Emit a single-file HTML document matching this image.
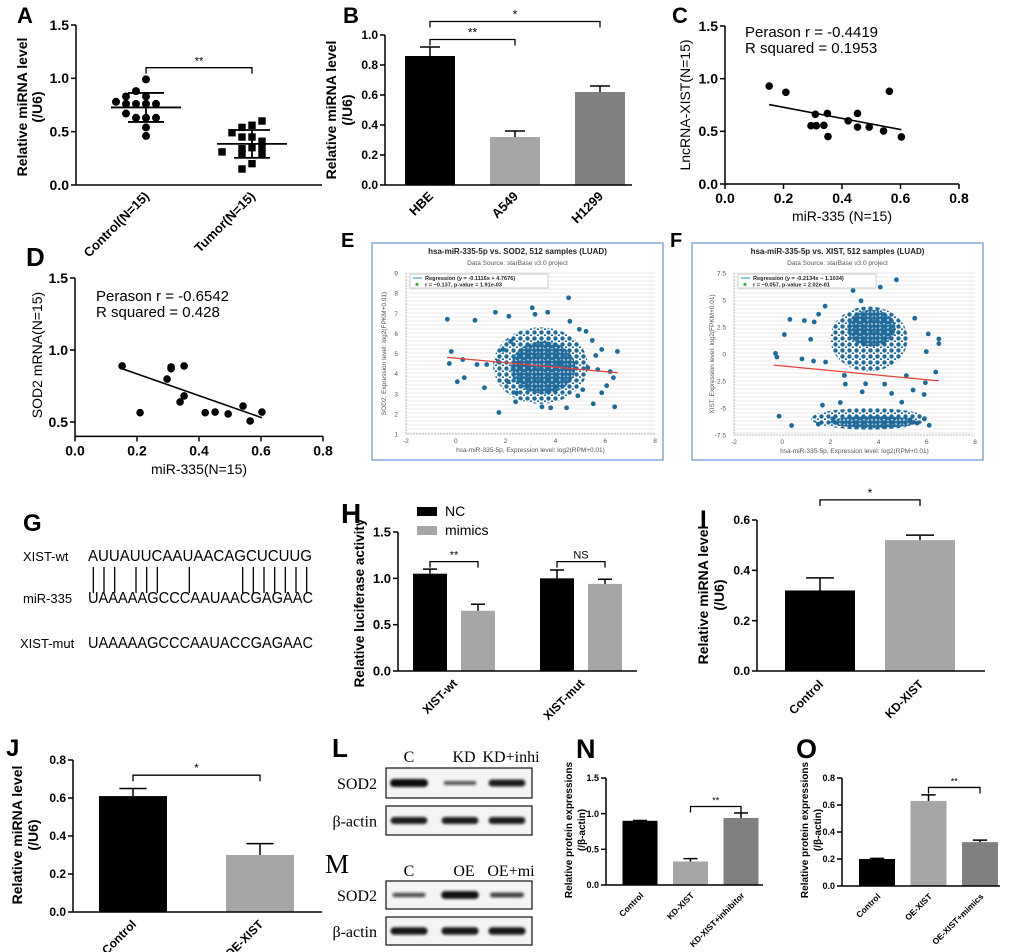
<!DOCTYPE html>
<html><head><meta charset="utf-8"><title>Figure</title>
<style>
html,body{margin:0;padding:0;background:#fff;}
svg{display:block;}
</style></head>
<body>
<svg id="fig" xmlns="http://www.w3.org/2000/svg" width="1020" height="952" viewBox="0 0 1020 952" font-family="'Liberation Sans', Arial, sans-serif">
<defs>
<pattern id="dotsDense" width="4" height="4" patternUnits="userSpaceOnUse"><circle cx="2" cy="2" r="2" fill="#1f6a99"/></pattern>
<pattern id="dotsSparse" width="7" height="6" patternUnits="userSpaceOnUse"><circle cx="2.5" cy="2.5" r="2.2" fill="#1f6a99"/><circle cx="6" cy="5.5" r="1.2" fill="#1f6a99"/></pattern>
<filter id="blur" x="-20%" y="-80%" width="140%" height="260%"><feGaussianBlur stdDeviation="1.3"/></filter>
</defs>
<rect x="0" y="0" width="1020" height="952" fill="#fff"/>
<text x="17" y="23" font-size="22" font-weight="bold">A</text>
<text x="343" y="23" font-size="22" font-weight="bold">B</text>
<text x="672" y="23" font-size="22" font-weight="bold">C</text>
<text x="26" y="266" font-size="26" font-weight="bold">D</text>
<text x="341" y="247" font-size="20" font-weight="bold">E</text>
<text x="670" y="247" font-size="20" font-weight="bold">F</text>
<text x="23" y="531" font-size="24" font-weight="bold">G</text>
<text x="341" y="523" font-size="28" font-weight="bold">H</text>
<text x="700" y="527" font-size="24" font-weight="bold">I</text>
<text x="6" y="756" font-size="24" font-weight="bold">J</text>
<text x="332" y="757" font-size="26" font-weight="bold">L</text>
<text x="325" y="873" font-size="27" font-family="'Liberation Serif', serif">M</text>
<text x="576" y="758" font-size="27" font-weight="bold">N</text>
<text x="796" y="758" font-size="27" font-weight="bold">O</text>
</svg>
<script>
// ===== DATA =====
const A_categories = ['Control(N=15)', 'Tumor(N=15)'];
const A_control = [0.83,0.76,0.76,0.76,0.88,0.99,0.76,0.78,0.83,0.63,0.63,0.63,0.67,0.54,0.46];
const A_tumor = [0.56,0.54,0.60,0.45,0.45,0.41,0.49,0.35,0.34,0.35,0.29,0.29,0.31,0.20,0.15];
const A_ticks = [0, 0.5, 1.0, 1.5];

const B_categories = ['HBE', 'A549', 'H1299'];
const B_values = [0.86, 0.32, 0.62];
const B_errors = [0.06, 0.04, 0.04];
const B_ticks = [0, 0.2, 0.4, 0.6, 0.8, 1.0];

const C_x = [0.151,0.208,0.294,0.309,0.312,0.338,0.350,0.352,0.421,0.453,0.453,0.493,0.542,0.562,0.603];
const C_y = [0.93,0.87,0.554,0.662,0.554,0.557,0.67,0.45,0.60,0.67,0.54,0.54,0.504,0.88,0.447];
const C_xticks = [0, 0.2, 0.4, 0.6, 0.8];
const C_yticks = [0, 0.5, 1.0, 1.5];

const D_x = [0.152,0.21,0.297,0.31,0.31,0.352,0.339,0.352,0.42,0.452,0.494,0.542,0.565,0.603,0.31];
const D_y = [0.889,0.565,0.798,0.875,0.882,0.889,0.639,0.681,0.565,0.569,0.556,0.611,0.507,0.569,0.87];
const D_xticks = [0, 0.2, 0.4, 0.6, 0.8];
const D_yticks = [0.5, 1.0, 1.5];

const E_regression = [-0.1116, 4.7676];
const E_x = [-0.34,-0.18,-0.26,0.06,0.34,0.28,0.77,0.85,1.15,1.24,1.59,2.13,1.73,3.07,3.18,3.69,4.53,4.58,4.96,5.23,5.48,5.86,6.49,6.38,5.86,6.06,5.52,4.45,3.81,3.46,2.4,5.62,6.2,6.33,4.18,2.44,2.85,1.9,2.1,5.1,5.3,4.9,2.2,1.7,5.7];
const E_y = [6.7,5.1,4.5,3.6,3.8,4.7,6.65,4.45,3.3,4.45,7.05,6.85,2.07,7.27,6.95,7.05,7.77,6.6,6.2,6.1,5.65,5.2,5.1,2.35,3.05,3.4,2.5,2.3,2.3,2.35,2.6,4.9,4.1,3.8,4.55,3.05,3.4,5.2,3.6,3.2,4.3,2.9,5.6,4.6,4.2];
const E_cloudX = [3.4, 3.5];
const E_cloudY = [4.4, 4.3];
const E_xticks = [-2, 0, 2, 4, 6, 8];
const E_yticks = [1,2,3,4,5,6,7,8,9];

const F_regression = [-0.2134, -1.1034];
const F_x = [-0.28,-0.22,0.09,0.32,0.92,0.82,1.3,1.18,1.33,1.51,1.78,1.8,2.58,2.62,3.32,3.46,4.25,4.54,5.15,5.43,5.89,5.94,6.37,6.5,6.5,5.98,6.06,5.5,2.94,4.07,4.74,3.27,4.96,-0.13,0.39,1.67,2.41,2.1,5.3,5.6,1.5,5.9,6.1];
const F_y = [0.06,-0.28,1.8,3.2,3.1,-0.46,-0.65,1.36,2.97,3.68,4.43,-0.74,-1.98,-2.79,-3.5,-2.76,-2.79,-3.65,-2.0,-3.34,-3.75,-2.66,-1.67,1.39,0.96,0.22,1.86,3.31,5.88,6.19,6.87,4.92,-4.46,-5.76,-6.62,-4.74,-4.49,-6.0,-6.1,-6.4,-6.5,-6.0,-6.6];
const F_cloudX = [3.6, 3.7, 3.6, 3.8];
const F_cloudY = [1.4, 2.4, -6.0, -6.3];
const F_xticks = [-2, 0, 2, 4, 6, 8];
const F_yticks = [-7.5, -5, -2.5, 0, 2.5, 5, 7.5];

const G_wt = 'AUUAUUCAAUAACAGCUCUUG';
const G_mir = 'UAAAAAGCCCAAUAACGAGAAC';
const G_mut = 'UAAAAAGCCCAAUACCGAGAAC';
const G_pairs = [0,1,2,4,5,6,9,14,15,16,17,18,19,20];

const H_groups = ['XIST-wt', 'XIST-mut'];
const H_nc = [1.05, 1.00];
const H_ncErr = [0.05, 0.09];
const H_mimics = [0.65, 0.94];
const H_mimicsErr = [0.07, 0.05];
const H_ticks = [0, 0.5, 1.0, 1.5];

const I_categories = ['Control', 'KD-XIST'];
const I_values = [0.32, 0.52];
const I_errors = [0.05, 0.02];
const I_ticks = [0, 0.2, 0.4, 0.6];

const J_categories = ['Control', 'OE-XIST'];
const J_values = [0.61, 0.30];
const J_errors = [0.04, 0.06];
const J_ticks = [0, 0.2, 0.4, 0.6, 0.8];

const N_categories = ['Control', 'KD-XIST', 'KD-XIST+inhibitor'];
const N_values = [0.90, 0.33, 0.94];
const N_errors = [0.005, 0.04, 0.07];
const N_ticks = [0, 0.5, 1.0, 1.5];

const O_categories = ['Control', 'OE-XIST', 'OE-XIST+mimics'];
const O_values = [0.20, 0.63, 0.325];
const O_errors = [0.005, 0.045, 0.015];
const O_ticks = [0, 0.2, 0.4, 0.6, 0.8];

const L_lanes = ['C', 'KD', 'KD+inhi'];
const L_sod2 = [1.0, 0.35, 0.85];
const L_actin = [0.85, 0.85, 0.85];
const M_lanes = ['C', 'OE', 'OE+mi'];
const M_sod2 = [0.4, 0.95, 0.5];
const M_actin = [0.9, 0.9, 0.9];

// ===== HELPERS =====
const NS = 'http://www.w3.org/2000/svg';
const svg = document.getElementById('fig');
function mk(tag, attrs, parent) {
  const e = document.createElementNS(NS, tag);
  for (const k in attrs) e.setAttribute(k, attrs[k]);
  (parent || svg).appendChild(e);
  return e;
}
function txt(x, y, s, attrs, parent) {
  const e = mk('text', Object.assign({x: x, y: y}, attrs || {}), parent);
  e.textContent = s;
  return e;
}
function lin(d0, d1, r0, r1) { return v => r0 + (v - d0) / (d1 - d0) * (r1 - r0); }
function fmt(v, dec) { return v.toFixed(dec); }
function group(name) {
  const g = mk('g', {});
  
  
  return g;
}
function fit(xs, ys) {
  const n = xs.length; let mx = 0, my = 0;
  for (let i = 0; i < n; i++) { mx += xs[i]; my += ys[i]; }
  mx /= n; my /= n;
  let sxy = 0, sxx = 0;
  for (let i = 0; i < n; i++) { sxy += (xs[i]-mx)*(ys[i]-my); sxx += (xs[i]-mx)*(xs[i]-mx); }
  const b = sxy / sxx; return [b, my - b*mx];
}
function yAxis(g, ax, sy, ticks, dec, yMinPx, yMaxPx, fs, bold, name) {
  const l = mk('line', {x1: ax, y1: yMinPx, x2: ax, y2: yMaxPx, stroke: '#000', 'stroke-width': 1.5}, g);
  
  
  ticks.forEach(t => {
    const y = sy(t);
    const tk = mk('line', {x1: ax - 5, y1: y, x2: ax, y2: y, stroke: '#000', 'stroke-width': 1.5}, g);
    
    
    const tl = txt(ax - 7, y + fs * 0.35, fmt(t, dec), {'font-size': fs, 'font-weight': bold ? 'bold' : 'normal', 'text-anchor': 'end'}, g);
    
    
  });
}
function xAxisLine(g, x1, x2, y, name) {
  const l = mk('line', {x1: x1, y1: y, x2: x2, y2: y, stroke: '#000', 'stroke-width': 1.5}, g);
  
  
}
function yTitle(g, x, cy, s, fs, bold, name) {
  const t = txt(x, cy, s, {'font-size': fs, 'font-weight': bold ? 'bold' : 'normal', 'text-anchor': 'middle', transform: 'rotate(-90 ' + x + ' ' + cy + ')'}, g);
  
  
}
function bracket(g, x1, x2, y, label, fs, name) {
  const p = mk('path', {d: 'M' + x1 + ' ' + (y + 6) + 'V' + y + 'H' + x2 + 'V' + (y + 6), fill: 'none', stroke: '#000', 'stroke-width': 1.3}, g);
  
  
  const t = txt((x1 + x2) / 2, y - 3, label, {'font-size': fs, 'text-anchor': 'middle'}, g);
  
  
}
function rotLabel(g, cx, y, s, fs, name) {
  const t = txt(cx + 4, y, s, {'font-size': fs, 'font-weight': 'bold', 'text-anchor': 'end', transform: 'rotate(-45 ' + (cx + 4) + ' ' + y + ')'}, g);
  
  
}
function errBar(g, cx, yv, ye, w, name) {
  const p = mk('path', {d: 'M' + cx + ' ' + yv + 'V' + ye + 'M' + (cx - w / 2) + ' ' + ye + 'H' + (cx + w / 2), stroke: '#000', 'stroke-width': 1.5, fill: 'none'}, g);
  
  
}
function barChart(c) {
  const g = group(c.name);
  const sy = lin(0, c.vmax, c.y0, c.yTop);
  c.cats.forEach((cat, i) => {
    const cx = c.c0 + i * c.step;
    const yv = sy(c.vals[i]);
    const r = mk('rect', {x: cx - c.bw / 2, y: yv, width: c.bw, height: c.y0 - yv, fill: c.colors[i]}, g);
    
    
    errBar(g, cx, yv, sy(c.vals[i] + c.errs[i]), c.bw * 0.4, 'error-bar-' + i);
    rotLabel(g, cx, c.y0 + c.labOff, cat, c.catFs, 'x-category-label');
  });
  yAxis(g, c.ax, sy, c.ticks, c.dec, c.y0, c.yTop, c.tickFs, true, c.name);
  xAxisLine(g, c.ax, c.axEnd, c.y0, c.name);
  c.titles.forEach((t, k) => yTitle(g, c.titleX[k], c.titleY, t, c.titleFs, true, 'y-axis-title'));
  c.sig.forEach(s => bracket(g, c.c0 + s[0] * c.step, c.c0 + s[1] * c.step, sy(s[2]), s[3], c.sigFs, c.name));
  return g;
}

// ===== PANEL A =====
(function(){
  const g = group('panel-a-dot-plot');
  const sy = lin(0, 1.5, 185, 25);
  const centers = [146, 252];
  const series = [A_control, A_tumor];
  series.forEach((vals, s) => {
    const placed = [];
    vals.forEach((v, i) => {
      let k = 0; placed.forEach(p => { if (Math.abs(p - v) < 0.06) k++; });
      placed.push(v);
      const off = (k % 2 === 0 ? 1 : -1) * Math.ceil(k / 2) * 10;
      const cx = centers[s] + off, cy = sy(v);
      let el;
      if (s === 0) el = mk('circle', {cx: cx, cy: cy, r: 4, fill: '#000'}, g);
      else el = mk('rect', {x: cx - 3.7, y: cy - 3.7, width: 7.4, height: 7.4, fill: '#000'}, g);
      
      
    });
    const m = vals.reduce((a, b) => a + b, 0) / vals.length;
    const sd = Math.sqrt(vals.reduce((a, b) => a + (b - m) * (b - m), 0) / (vals.length - 1));
    const ml = mk('line', {x1: centers[s] - 35, x2: centers[s] + 35, y1: sy(m), y2: sy(m), stroke: '#000', 'stroke-width': 1.8}, g);
    
    
    const sl = mk('path', {d: 'M' + (centers[s] - 18) + ' ' + sy(m + sd) + 'H' + (centers[s] + 18) + 'M' + (centers[s] - 18) + ' ' + sy(m - sd) + 'H' + (centers[s] + 18) + 'M' + centers[s] + ' ' + sy(m + sd) + 'V' + sy(m - sd), stroke: '#000', 'stroke-width': 1.8, fill: 'none'}, g);
    
    
    rotLabel(g, centers[s], 197, A_categories[s], 13, 'x-category-label');
  });
  yAxis(g, 76, sy, A_ticks, 1, 185, 25, 14, true, 'panel-a');
  xAxisLine(g, 76, 322, 185, 'panel-a');
  yTitle(g, 27, 107, 'Relative miRNA level', 14, true, 'y-axis-title');
  yTitle(g, 42, 107, '(/U6)', 14, true, 'y-axis-title-unit');
  bracket(g, 146, 252, sy(1.1), '**', 11, 'panel-a');
})();

// ===== PANEL B =====
barChart({name: 'panel-b-bar-chart', cats: B_categories, vals: B_values, errs: B_errors, colors: ['#000', '#a6a6a6', '#808080'],
  ax: 385, axEnd: 632, y0: 185, yTop: 35, vmax: 1.0, ticks: B_ticks, dec: 1, c0: 430, step: 85, bw: 50,
  tickFs: 12, catFs: 13, labOff: 12, titles: ['Relative miRNA level', '(/U6)'], titleX: [336, 352], titleY: 110, titleFs: 14,
  sig: [[0, 1, 0.97, '**'], [0, 2, 1.09, '*']], sigFs: 12});

// ===== SCATTER C / D =====
function scatter(c) {
  const g = group(c.name);
  const sx = lin(c.xd[0], c.xd[1], c.xr[0], c.xr[1]);
  const sy = lin(c.yd[0], c.yd[1], c.yr[0], c.yr[1]);
  c.xs.forEach((x, i) => {
    const p = mk('circle', {cx: sx(x), cy: sy(c.ys[i]), r: 3.8, fill: '#000'}, g);
    
    
  });
  const f = fit(c.xs, c.ys);
  const xmin = Math.min.apply(null, c.xs), xmax = Math.max.apply(null, c.xs);
  const rl = mk('line', {x1: sx(xmin), y1: sy(f[0] * xmin + f[1]), x2: sx(xmax), y2: sy(f[0] * xmax + f[1]), stroke: '#000', 'stroke-width': 1.6}, g);
  
  
  yAxis(g, c.xr[0], sy, c.yticks, 1, c.yr[0], c.yr[1], 14, true, c.name);
  xAxisLine(g, c.xr[0], c.xr[1], c.yr[0], c.name);
  c.xticks.forEach(t => {
    const tk = mk('line', {x1: sx(t), x2: sx(t), y1: c.yr[0], y2: c.yr[0] + 5, stroke: '#000', 'stroke-width': 1.5}, g);
    
    
    const tl = txt(sx(t), c.yr[0] + 19, fmt(t, 1), {'font-size': 14, 'font-weight': 'bold', 'text-anchor': 'middle'}, g);
    
    
  });
  const xt = txt(c.xTitle[1], c.xTitle[2], c.xTitle[0], {'font-size': 14, 'text-anchor': 'middle'}, g);
  
  
  yTitle(g, c.yTitle[1], c.yTitle[2], c.yTitle[0], 14, false, 'y-axis-title');
  const a1 = txt(c.ann[0], c.ann[1], c.annText[0], {'font-size': 15}, g);
  
  
  const a2 = txt(c.ann[0], c.ann[1] + 16, c.annText[1], {'font-size': 15}, g);
  
  
}
scatter({name: 'panel-c-scatter', xs: C_x, ys: C_y, xd: [0, 0.8], xr: [725, 959], yd: [0, 1.5], yr: [184, 26],
  xticks: C_xticks, yticks: C_yticks, xTitle: ['miR-335 (N=15)', 842, 221], yTitle: ['LncRNA-XIST(N=15)', 690, 105],
  ann: [745, 37], annText: ['Perason r = -0.4419', 'R squared = 0.1953']});
scatter({name: 'panel-d-scatter', xs: D_x, ys: D_y, xd: [0, 0.8], xr: [75, 323], yd: [0.4, 1.5], yr: [436.4, 278],
  xticks: D_xticks, yticks: D_yticks, xTitle: ['miR-335(N=15)', 199, 474], yTitle: ['SOD2 mRNA(N=15)', 42, 355],
  ann: [96, 301], annText: ['Perason r = -0.6542', 'R squared = 0.428']});

// ===== STARBASE PANELS E / F =====
function starbase(c) {
  const g = group(c.name);
  const box = mk('rect', {x: c.box[0], y: c.box[1], width: c.box[2] - c.box[0], height: c.box[3] - c.box[1], fill: '#fff', stroke: '#8aaedb', 'stroke-width': 1.6}, g);
  
  
  const cx = (c.box[0] + c.box[2]) / 2;
  const t1 = txt(cx, c.box[1] + 11, c.title, {'font-size': 8, 'font-weight': 'bold', 'text-anchor': 'middle', fill: '#222'}, g);
  
  
  const t2 = txt(cx, c.box[1] + 22, 'Data Source: starBase v3.0 project', {'font-size': 6.5, 'text-anchor': 'middle', fill: '#555'}, g);
  
  
  const sx = lin(-2, 8, c.px[0], c.px[1]);
  const sy = lin(c.yd[0], c.yd[1], c.py[0], c.py[1]);
  const grid = mk('g', {}, g);
  
  
  for (let y = c.py[1]; y <= c.py[0]; y += 4) mk('line', {x1: c.px[0], x2: c.px[1], y1: y, y2: y, stroke: '#e3e3e3', 'stroke-width': 0.8}, grid);
  const pa = mk('path', {d: 'M' + c.px[0] + ' ' + c.py[1] + 'V' + c.py[0] + 'H' + c.px[1], stroke: '#bbb', fill: 'none', 'stroke-dasharray': '2 1'}, g);
  
  
  c.yticks.forEach(t => {
    const tl = txt(c.px[0] - 8, sy(t) + 2.5, String(t), {'font-size': 6.5, 'text-anchor': 'end', fill: '#555'}, g);
    
    
  });
  c.xticks.forEach(t => {
    const tl = txt(sx(t), c.py[0] + 9, String(t), {'font-size': 6.5, 'text-anchor': 'middle', fill: '#555'}, g);
    
    
  });
  const xt = txt((c.px[0] + c.px[1]) / 2, c.py[0] + 18, 'hsa-miR-335-5p, Expression level: log2(RPM+0.01)', {'font-size': 6.5, 'text-anchor': 'middle', fill: '#555'}, g);
  
  
  const yx = c.px[0] - 20, ycy = (c.py[0] + c.py[1]) / 2;
  const yt = txt(yx, ycy, c.ylab, {'font-size': 6.5, 'text-anchor': 'middle', fill: '#555', transform: 'rotate(-90 ' + yx + ' ' + ycy + ')'}, g);
  
  
  const col = '#1f6a99';
  c.cloud.forEach((cl, i) => {
    const e = mk('ellipse', {cx: sx(c.cloudX[i]), cy: sy(c.cloudY[i]), rx: cl[0] * (c.px[1] - c.px[0]) / 10, ry: Math.abs(sy(0) - sy(cl[1])), fill: cl[2]}, g);
    
    
  });
  c.xs.forEach((x, i) => {
    const p = mk('circle', {cx: sx(x), cy: sy(c.ys[i]), r: 2.4, fill: col}, g);
    
    
  });
  const r = c.reg;
  const rl = mk('line', {x1: sx(-0.35), y1: sy(r[0] * -0.35 + r[1]), x2: sx(6.5), y2: sy(r[0] * 6.5 + r[1]), stroke: '#e8413a', 'stroke-width': 1.3}, g);
  
  
  const lb = mk('rect', {x: c.px[0] + 4, y: c.py[1] + 1, width: 138, height: 14, fill: '#fff', stroke: '#aaa', 'stroke-width': 0.6}, g);
  
  
  const ll = mk('line', {x1: c.px[0] + 7, x2: c.px[0] + 16, y1: c.py[1] + 5, y2: c.py[1] + 5, stroke: '#4aa3df', 'stroke-width': 1.2}, g);
  
  
  const lt1 = txt(c.px[0] + 19, c.py[1] + 7, 'Regression (y = ' + r[0] + 'x ' + (r[1] < 0 ? '\u2212 ' + (-r[1]) : '+ ' + r[1]) + ')', {'font-size': 5.6, 'font-weight': 'bold', fill: '#222'}, g);
  
  
  const ld = mk('circle', {cx: c.px[0] + 11, cy: c.py[1] + 11.5, r: 1.6, fill: '#3bb54a'}, g);
  
  
  const lt2 = txt(c.px[0] + 19, c.py[1] + 13.5, c.stat, {'font-size': 5.6, 'font-weight': 'bold', fill: '#222'}, g);
  
  
}
starbase({name: 'panel-e-starbase-scatter', box: [372, 243, 663, 460], px: [406, 655], py: [434, 273], yd: [1, 9],
  title: 'hsa-miR-335-5p vs. SOD2, 512 samples (LUAD)', ylab: 'SOD2, Expression level: log2(FPKM+0.01)',
  xs: E_x, ys: E_y, cloudX: E_cloudX, cloudY: E_cloudY, cloud: [[1.9, 1.9, 'url(#dotsSparse)'], [1.3, 1.3, 'url(#dotsDense)']],
  xticks: E_xticks, yticks: E_yticks, reg: E_regression, stat: 'r = \u22120.137, p-value = 1.91e-03'});
starbase({name: 'panel-f-starbase-scatter', box: [692, 243, 983, 460], px: [734, 975], py: [435, 273], yd: [-7.5, 7.5],
  title: 'hsa-miR-335-5p vs. XIST, 512 samples (LUAD)', ylab: 'XIST, Expression level: log2(FPKM+0.01)',
  xs: F_x, ys: F_y, cloudX: F_cloudX, cloudY: F_cloudY, cloud: [[1.6, 3.0, 'url(#dotsSparse)'], [1.0, 1.7, 'url(#dotsDense)'], [2.4, 1.0, 'url(#dotsSparse)'], [1.8, 0.55, 'url(#dotsDense)']],
  xticks: F_xticks, yticks: F_yticks, reg: F_regression, stat: 'r = \u22120.057, p-value = 2.02e-01'});

// ===== PANEL G =====
(function(){
  const g = group('panel-g-sequence-alignment');
  const rows = [['XIST-wt', G_wt, 561, 'xist-wt'], ['miR-335', G_mir, 603, 'mir-335'], ['XIST-mut', G_mut, 648, 'xist-mut']];
  rows.forEach(r => {
    const l = txt(r[0] === 'XIST-mut' ? 20 : 23, r[2], r[0], {'font-size': 13}, g);
    
    
    const s = txt(88, r[2], r[1], {'font-size': 16, textLength: r[1].length === 21 ? 224 : 225, lengthAdjust: 'spacingAndGlyphs'}, g);
    
    
  });
  const cw = 224 / G_wt.length;
  G_pairs.forEach(i => {
    const x = 88 + cw * (i + 0.5);
    const ln = mk('line', {x1: x, x2: x, y1: 567, y2: 593, stroke: '#000', 'stroke-width': 1.3}, g);
    
    
  });
})();

// ===== PANEL H =====
(function(){
  const g = group('panel-h-luciferase-bar-chart');
  const sy = lin(0, 1.5, 671, 532);
  const gc = [454, 581];
  H_groups.forEach((grp, i) => {
    [[H_nc, H_ncErr, '#000', -24, 'nc'], [H_mimics, H_mimicsErr, '#a6a6a6', 24, 'mimics']].forEach(s => {
      const cx = gc[i] + s[3], yv = sy(s[0][i]);
      const r = mk('rect', {x: cx - 17, y: yv, width: 34, height: 671 - yv, fill: s[2]}, g);
      
      
      errBar(g, cx, yv, sy(s[0][i] + s[1][i]), 14, 'error-bar');
    });
    rotLabel(g, gc[i], 684, grp, 12, 'x-category-label');
  });
  yAxis(g, 398, sy, H_ticks, 1, 671, 532, 13, true, 'panel-h');
  xAxisLine(g, 398, 637, 671, 'panel-h');
  yTitle(g, 364, 603, 'Relative luciferase activity', 13.5, true, 'y-axis-title');
  bracket(g, 430, 478, sy(1.18), '**', 11, 'panel-h');
  bracket(g, 557, 605, sy(1.18), 'NS', 11, 'panel-h');
  const l1 = mk('rect', {x: 417, y: 507, width: 20, height: 9, fill: '#000'}, g);
  
  
  const t1 = txt(445, 516, 'NC', {'font-size': 14}, g);
  
  
  const l2 = mk('rect', {x: 417, y: 526, width: 20, height: 9, fill: '#a6a6a6'}, g);
  
  
  const t2 = txt(445, 535, 'mimics', {'font-size': 14}, g);
  
  
})();

// ===== PANEL I / J / N / O =====
barChart({name: 'panel-i-bar-chart', cats: I_categories, vals: I_values, errs: I_errors, colors: ['#000', '#a6a6a6'],
  ax: 757, axEnd: 985, y0: 671, yTop: 520, vmax: 0.6, ticks: I_ticks, dec: 1, c0: 820, step: 100, bw: 70,
  tickFs: 12, catFs: 12, labOff: 14, titles: ['Relative miRNA level', '(/U6)'], titleX: [708, 724], titleY: 595, titleFs: 14,
  sig: [[0, 1, 0.68, '*']], sigFs: 12});
barChart({name: 'panel-j-bar-chart', cats: J_categories, vals: J_values, errs: J_errors, colors: ['#000', '#a6a6a6'],
  ax: 73, axEnd: 322, y0: 912, yTop: 760, vmax: 0.8, ticks: J_ticks, dec: 1, c0: 133, step: 127, bw: 68,
  tickFs: 12, catFs: 12, labOff: 13, titles: ['Relative miRNA level', '(/U6)'], titleX: [22, 38], titleY: 835, titleFs: 14,
  sig: [[0, 1, 0.72, '*']], sigFs: 12});
barChart({name: 'panel-n-bar-chart', cats: N_categories, vals: N_values, errs: N_errors, colors: ['#000', '#a6a6a6', '#808080'],
  ax: 606, axEnd: 763, y0: 885, yTop: 778, vmax: 1.5, ticks: N_ticks, dec: 1, c0: 640, step: 50.5, bw: 35,
  tickFs: 9, catFs: 8.5, labOff: 11, titles: ['Relative protein expressions', '(/\u03b2-actin)'], titleX: [572, 585], titleY: 830, titleFs: 10,
  sig: [[1, 2, 1.1, '**']], sigFs: 9});
barChart({name: 'panel-o-bar-chart', cats: O_categories, vals: O_values, errs: O_errors, colors: ['#000', '#a6a6a6', '#808080'],
  ax: 842, axEnd: 1000, y0: 886, yTop: 778, vmax: 0.8, ticks: O_ticks, dec: 1, c0: 877, step: 51.5, bw: 36,
  tickFs: 9, catFs: 8.5, labOff: 11, titles: ['Relative protein expressions', '(/\u03b2-actin)'], titleX: [808, 821], titleY: 830, titleFs: 10,
  sig: [[1, 2, 0.73, '**']], sigFs: 9});

// ===== BLOTS L / M =====
function blot(name, lanes, sod2, actin, labelY, sodBox, actBox) {
  const g = group(name);
  const lx = [409, 464, 511];
  lanes.forEach((l, i) => {
    const t = txt(lx[i], labelY, l, {'font-size': 16, 'font-family': "'Liberation Serif', serif", 'text-anchor': 'middle'}, g);
    
    
  });
  [[sodBox, sod2, 'SOD2', 'sod2'], [actBox, actin, '\u03b2-actin', 'beta-actin']].forEach(row => {
    const b = row[0];
    const r = mk('rect', {x: 386, y: b[0], width: 146, height: b[1] - b[0], fill: '#f4f4f4', stroke: '#222', 'stroke-width': 1.3}, g);
    
    
    const t = txt(377, (b[0] + b[1]) / 2 + 6, row[2], {'font-size': 16, 'font-family': "'Liberation Serif', serif", 'text-anchor': 'end'}, g);
    
    
    const cy = (b[0] + b[1]) / 2;
    row[1].forEach((v, i) => {
      const h = 2 + v * 6;
      const bw = 30 + v * 8;
      const band = mk('rect', {x: lx[i] - bw / 2 - (i === 0 ? 0 : 4), y: cy - h / 2, width: bw, height: h, rx: h / 2, fill: '#111', opacity: 0.5 + v * 0.5, filter: 'url(#blur)'}, g);
      
      
    });
  });
}
blot('panel-l-western-blot', L_lanes, L_sod2, L_actin, 762, [768, 798], [806, 835]);
blot('panel-m-western-blot', M_lanes, M_sod2, M_actin, 876, [881, 909], [917, 945]);
</script>
</body></html>
